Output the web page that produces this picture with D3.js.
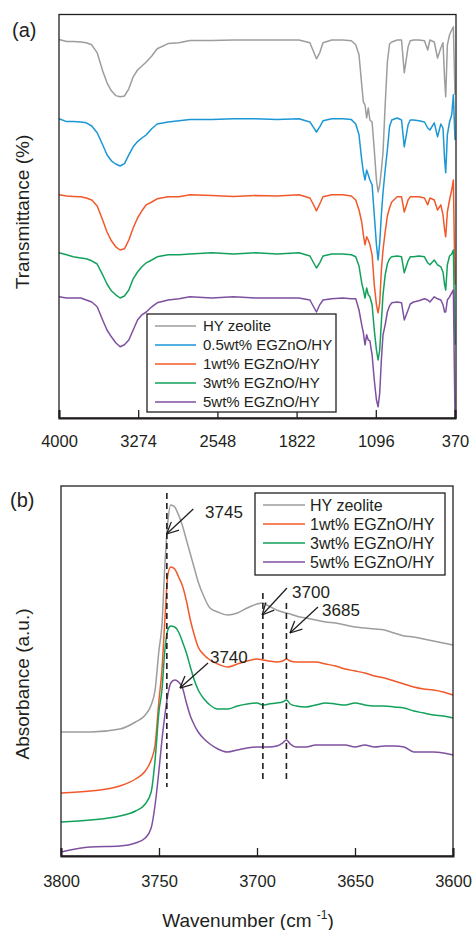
<!DOCTYPE html>
<html><head><meta charset="utf-8">
<script src="https://cdn.jsdelivr.net/npm/d3@7"></script>
<style>
body{margin:0;background:#fff}
text{font-family:"Liberation Sans",Arial,sans-serif;fill:#231f20}
</style>
</head><body>
<svg id="chart" width="474" height="930"></svg>
<script>
// ---------- Panel (a): FTIR transmittance ----------
const wnA = [4000,3930,3870,3800,3750,3700,3650,3600,3560,3520,
  3480,3440,3400,3360,3320,3280,3240,3200,3150,3100,
  3000,2900,2800,2600,2400,2200,2000,1800,1700,1670,
  1640,1610,1580,1500,1400,1320,1280,1250,1225,1210,
  1195,1180,1165,1150,1130,1110,1090,1075,1060,1045,
  1030,1010,990,970,950,900,860,835,800,780,
  750,700,650,620,600,560,530,500,480,465,
  455,440,420,400,385,370];
const hyA = [94.6,94.1,94.1,94.0,93.8,93.3,91.3,86.8,83.8,81.8,
  80.6,80.3,80.5,82.3,85.3,87.0,88.0,89.0,90.5,92.3,
  93.6,93.8,94.4,94.4,94.5,94.5,94.5,94.5,93.8,91.8,
  89.8,91.3,93.8,94.5,94.5,94.3,93.3,90.8,83.3,79.0,
  78.3,75.0,77.5,74.5,74.0,67.0,59.5,56.5,58.3,62.0,
  66.3,78.3,89.0,93.5,94.0,94.5,94.5,86.3,92.8,94.3,
  94.5,94.5,94.3,92.0,94.5,94.0,90.0,92.5,93.8,84.5,
  80.3,93.3,95.8,97.0,97.8,80.8];
const zn05A = [74.8,74.1,74.1,74.0,73.8,73.0,71.3,68.3,65.8,64.3,
  63.5,63.0,63.6,65.8,67.8,69.1,70.0,70.8,72.3,73.5,
  74.0,74.3,74.6,74.6,74.8,74.8,74.6,74.8,74.0,72.8,
  71.5,72.8,74.3,74.8,74.8,74.6,73.5,70.8,64.5,61.5,
  59.5,62.0,60.8,59.5,58.3,50.8,43.3,39.5,43.8,50.8,
  56.3,62.0,67.0,72.8,74.5,75.0,74.5,67.8,73.3,74.5,
  74.5,74.3,74.0,72.5,72.0,73.8,70.3,73.5,72.5,64.5,
  61.3,70.8,74.0,75.8,80.8,69.5];
const zn1A = [55.8,55.5,55.4,55.3,55.0,54.5,53.0,49.5,46.5,44.3,
  42.8,42.0,42.3,44.5,47.5,50.0,51.8,53.3,54.0,54.8,
  55.3,55.3,55.8,55.6,55.4,55.6,55.5,55.8,55.0,53.5,
  51.8,53.5,55.3,55.8,55.8,55.5,54.5,52.0,49.0,45.8,
  43.3,45.3,44.5,43.3,40.8,33.3,28.3,26.3,28.8,37.0,
  42.0,46.5,50.5,52.5,54.0,55.3,55.3,51.5,54.5,55.3,
  55.3,55.3,55.0,53.3,55.0,54.5,52.0,53.3,50.8,47.0,
  45.3,51.5,54.5,57.0,59.5,33.3];
const zn3A = [41.3,40.8,40.3,40.0,39.8,39.3,38.5,35.8,33.5,31.8,
  30.8,30.0,30.5,32.0,34.8,36.5,37.8,38.8,39.5,40.3,
  40.8,40.8,41.0,41.3,41.0,41.3,41.0,41.3,40.5,39.0,
  37.5,38.8,40.5,41.0,41.0,40.8,40.3,38.0,33.8,32.0,
  30.0,32.5,30.8,30.3,28.3,22.0,17.0,14.5,17.0,24.0,
  30.8,35.8,38.5,39.8,40.3,40.5,40.3,36.3,39.3,40.3,
  40.3,40.5,40.3,38.8,38.3,39.5,38.3,37.8,36.5,33.3,
  32.0,38.3,40.5,41.0,42.0,18.3];
const zn5A = [30.3,30.0,30.0,30.0,29.5,29.0,27.8,24.5,22.0,20.3,
  18.8,17.8,18.3,19.5,22.0,24.5,25.8,26.5,27.8,28.8,
  29.5,29.8,30.3,30.0,30.3,30.0,30.0,30.0,29.5,28.0,
  26.5,28.3,29.5,29.8,30.0,29.8,29.8,27.0,23.3,21.3,
  18.3,20.8,19.5,19.3,15.8,9.5,4.5,2.8,6.3,14.5,
  20.8,23.3,26.5,28.0,28.8,29.0,28.8,24.5,27.0,28.5,
  29.0,29.3,29.8,29.5,29.0,30.3,29.8,29.5,28.3,26.5,
  26.5,29.5,30.3,31.3,32.0,0.0];
const ticksA = [4000,3274,2548,1822,1096,370];
const namesA = ["HY zeolite","0.5wt% EGZnO/HY","1wt% EGZnO/HY","3wt% EGZnO/HY","5wt% EGZnO/HY"];

// ---------- Panel (b): OH-region absorbance ----------
const wnB = [3800,3785,3770,3762,3757,3754,3752,3750,3748.5,3747,
  3745.5,3744,3742,3740,3738,3736,3734,3732,3730,3727,
  3724,3720,3715,3710,3705,3700,3697,3694,3690,3687,
  3685,3683,3680,3675,3670,3665,3660,3655,3650,3645,
  3640,3635,3630,3625,3620,3615,3610,3605,3600];
const hyB = [1.24,1.24,1.27,1.34,1.41,1.51,1.66,2.06,2.31,2.91,
  3.34,3.51,3.49,3.41,3.30,3.16,3.02,2.88,2.74,2.59,
  2.48,2.44,2.41,2.43,2.48,2.52,2.53,2.50,2.46,2.44,
  2.43,2.42,2.40,2.38,2.36,2.34,2.33,2.31,2.29,2.28,
  2.27,2.26,2.23,2.20,2.19,2.17,2.15,2.13,2.11];
const zn1B = [0.63,0.65,0.70,0.77,0.85,0.96,1.11,1.56,1.86,2.36,
  2.81,2.89,2.87,2.79,2.70,2.55,2.36,2.21,2.09,2.01,
  1.96,1.92,1.89,1.92,1.95,1.97,1.96,1.95,1.94,1.95,
  1.97,1.95,1.94,1.94,1.94,1.92,1.90,1.87,1.85,1.83,
  1.80,1.78,1.75,1.72,1.69,1.67,1.66,1.64,1.61];
const zn3B = [0.34,0.36,0.40,0.45,0.52,0.64,0.96,1.45,1.66,2.06,
  2.26,2.30,2.29,2.24,2.14,2.03,1.89,1.76,1.66,1.57,
  1.51,1.47,1.47,1.50,1.52,1.53,1.51,1.52,1.53,1.54,
  1.56,1.52,1.50,1.49,1.51,1.53,1.52,1.51,1.53,1.51,
  1.50,1.50,1.49,1.48,1.45,1.43,1.41,1.40,1.38];
const zn5B = [0.04,0.09,0.10,0.13,0.18,0.28,0.51,0.86,1.16,1.41,
  1.61,1.73,1.76,1.74,1.68,1.53,1.40,1.31,1.24,1.17,
  1.12,1.07,1.04,1.06,1.08,1.09,1.09,1.09,1.10,1.13,
  1.16,1.12,1.09,1.09,1.11,1.11,1.11,1.11,1.09,1.11,
  1.09,1.10,1.10,1.09,1.04,1.04,1.04,1.03,1.01];
const ticksB = [3800,3750,3700,3650,3600];
const namesB = ["HY zeolite","1wt% EGZnO/HY","3wt% EGZnO/HY","5wt% EGZnO/HY"];

// peak marker lines (wavenumber, value from, value to)
const peakWn = [3746,3697,3685];
const peakTop = [3.63,2.63,2.53];
const peakBot = [0.69,0.73,0.73];
// annotations: label, text anchor (wn,val), arrow tail (wn,val), arrow tip (wn,val)
const annLabels = ["3745","3700","3685","3740"];
const annText = [[3726.5,3.38],[3682.1,2.58],[3666.8,2.40],[3724,1.93]];
const annTail = [[3732.5,3.47],[3684.7,2.68],[3668.9,2.49],[3725,1.93]];
const annTip  = [[3746.1,3.22],[3697.4,2.41],[3683.2,2.23],[3739.3,1.68]];

const cGray="#9d9d9d", cBlue="#1b97d5", cOrange="#f1592a", cGreen="#12a15a", cPurple="#7e50a0";
const colorsA = [cGray,cBlue,cOrange,cGreen,cPurple];
const colorsB = [cGray,cOrange,cGreen,cPurple];

const svg = d3.select("#chart");
const ink = "#231f20";

// ===== Panel (a) =====
const xA = d3.scaleLinear().domain([4000,370]).range([59,455]);
const yA = d3.scaleLinear().domain([0,101]).range([418,14]);
const gA = svg.append("g");
const seriesA = [hyA,zn05A,zn1A,zn3A,zn5A];
const lineA = d3.line().x((d,i)=>xA(wnA[i])).y(d=>yA(d));
seriesA.forEach((s,k)=>{
  gA.append("path").attr("d",lineA(s)).attr("fill","none")
    .attr("stroke",colorsA[k]).attr("stroke-width",1.5).attr("stroke-linejoin","round");
});
gA.append("rect").attr("x",59).attr("y",14.5).attr("width",397).attr("height",403.5)
  .attr("fill","none").attr("stroke",ink).attr("stroke-width",1.3);
const axA = gA.append("g").attr("transform","translate(0,418)")
  .call(d3.axisBottom(xA).tickValues(ticksA).tickSize(-8).tickPadding(17).tickFormat(d3.format("d")));
axA.select(".domain").attr("stroke",ink).attr("stroke-width",2);
axA.selectAll(".tick line").attr("stroke",ink).attr("stroke-width",1.3);
axA.selectAll(".tick text").attr("font-size",16.5).attr("fill",ink).attr("font-family","Liberation Sans, Arial, sans-serif");
// legend (a)
const legA = gA.append("g");
legA.append("rect").attr("x",147).attr("y",314).attr("width",189).attr("height",98)
  .attr("fill","#fff").attr("stroke",ink).attr("stroke-width",1.3);
namesA.forEach((n,k)=>{
  const y = 326 + k*19;
  legA.append("line").attr("x1",155).attr("x2",196).attr("y1",y).attr("y2",y)
    .attr("stroke",colorsA[k]).attr("stroke-width",1.5);
  legA.append("text").attr("x",203).attr("y",y).attr("dy","0.35em").attr("font-size",15).text(n);
});
svg.append("text").attr("x",12).attr("y",37).attr("font-size",20).text("(a)");
svg.append("text").attr("transform","translate(29,212) rotate(-90)").attr("text-anchor","middle")
  .attr("font-size",19).text("Transmittance (%)");

// ===== Panel (b) =====
const xB = d3.scaleLinear().domain([3800,3600]).range([61,453]);
const yB = d3.scaleLinear().domain([0,3.7]).range([856,486]);
const gB = svg.append("g");
const seriesB = [hyB,zn1B,zn3B,zn5B];
const lineB = d3.line().x((d,i)=>xB(wnB[i])).y(d=>yB(d)).curve(d3.curveMonotoneX);
seriesB.forEach((s,k)=>{
  gB.append("path").attr("d",lineB(s)).attr("fill","none")
    .attr("stroke",colorsB[k]).attr("stroke-width",1.5);
});
// dashed peak lines
peakWn.forEach((w,k)=>{
  gB.append("line").attr("x1",xB(w)).attr("x2",xB(w)).attr("y1",yB(peakTop[k])).attr("y2",yB(peakBot[k]))
    .attr("stroke",ink).attr("stroke-width",1.6).attr("stroke-dasharray","6,4");
});
gB.append("rect").attr("x",61).attr("y",486).attr("width",392).attr("height",370)
  .attr("fill","none").attr("stroke",ink).attr("stroke-width",1.3);
const axB = gB.append("g").attr("transform","translate(0,856)")
  .call(d3.axisBottom(xB).tickValues(ticksB).tickSize(-8).tickPadding(19).tickFormat(d3.format("d")));
axB.select(".domain").attr("stroke",ink).attr("stroke-width",2);
axB.selectAll(".tick line").attr("stroke",ink).attr("stroke-width",1.3);
axB.selectAll(".tick text").attr("font-size",16.5).attr("fill",ink).attr("font-family","Liberation Sans, Arial, sans-serif");
// annotations with open arrowheads
annLabels.forEach((lab,k)=>{
  const tx = xB(annTail[k][0]), ty = yB(annTail[k][1]);
  const px = xB(annTip[k][0]), py = yB(annTip[k][1]);
  gB.append("line").attr("x1",tx).attr("y1",ty).attr("x2",px).attr("y2",py)
    .attr("stroke",ink).attr("stroke-width",1.3);
  const ang = Math.atan2(ty-py, tx-px), L = 13, a = 0.45;
  [ang-a, ang+a].forEach(t=>{
    gB.append("line").attr("x1",px).attr("y1",py)
      .attr("x2",px+L*Math.cos(t)).attr("y2",py+L*Math.sin(t))
      .attr("stroke",ink).attr("stroke-width",1.3);
  });
  gB.append("text").attr("x",xB(annText[k][0])).attr("y",yB(annText[k][1]))
    .attr("font-size",17).text(lab);
});
// legend (b)
const legB = gB.append("g");
legB.append("rect").attr("x",255).attr("y",493).attr("width",190).attr("height",82)
  .attr("fill","#fff").attr("stroke",ink).attr("stroke-width",1.3);
namesB.forEach((n,k)=>{
  const y = 505 + k*19;
  legB.append("line").attr("x1",263).attr("x2",305).attr("y1",y).attr("y2",y)
    .attr("stroke",colorsB[k]).attr("stroke-width",1.5);
  legB.append("text").attr("x",310).attr("y",y).attr("dy","0.35em").attr("font-size",16).text(n);
});
svg.append("text").attr("x",10).attr("y",507).attr("font-size",20).text("(b)");
svg.append("text").attr("transform","translate(29,684) rotate(-90)").attr("text-anchor","middle")
  .attr("font-size",19).text("Absorbance (a.u.)");
const xt = svg.append("text").attr("x",248).attr("y",927).attr("text-anchor","middle").attr("font-size",19);
xt.append("tspan").text("Wavenumber (cm ");
xt.append("tspan").attr("font-size",12).attr("dy",-8).text("-1");
xt.append("tspan").attr("dy",8).text(")");
</script>
</body></html>
